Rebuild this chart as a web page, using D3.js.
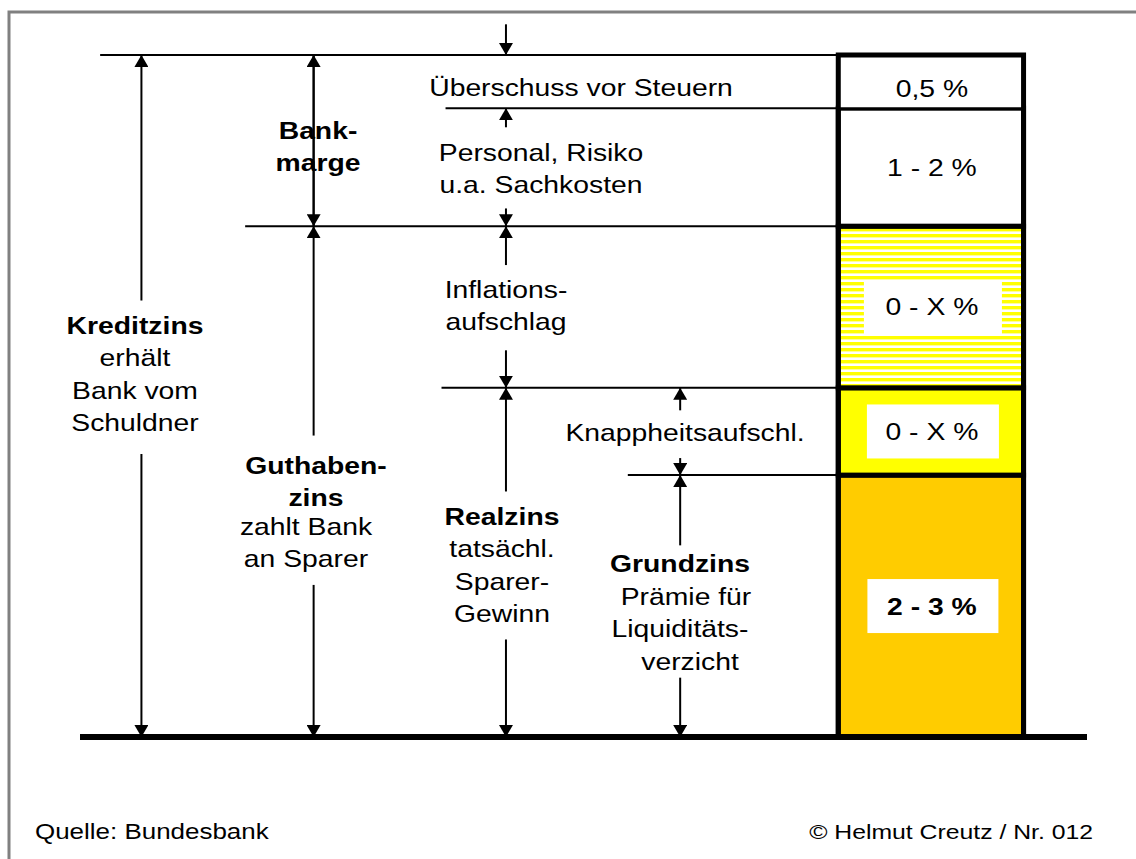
<!DOCTYPE html>
<html>
<head>
<meta charset="utf-8">
<script src="https://cdn.jsdelivr.net/npm/d3@7"></script>
<style>
  html, body { margin: 0; padding: 0; background: #fff; }
  text { font-family: Arial, "Liberation Sans", sans-serif; fill: #000; }
</style>
</head>
<body>
<svg id="chart" width="1136" height="859"></svg>
<script>
// stacked components of the credit rate (schematic heights, bottom to top)
const segments = ["Grundzins", "Knappheit", "Inflation", "Kosten", "Ueberschuss"];
const segHeights = [3.84, 1.28, 2.37, 1.73, 0.78];
const segLabels = ["2 - 3 %", "0 - X %", "0 - X %", "1 - 2 %", "0,5 %"];
const segFills = ["#ffcc00", "#ffff00", "url(#stripes)", "#fff", "#fff"];

// left end of the horizontal guide line at the top of each segment (x units)
const guideStart = [0.544, 0.359, 0.164, 0.363, 0.02];

const footerLeft = "Quelle: Bundesbank";
const footerRight = "\u00A9 Helmut Creutz / Nr. 012";

const svg = d3.select("#chart");
const W = 1136, H = 859;
const STRETCH = 1.18; // the original lettering is drawn wide

const x = d3.scaleLinear().domain([0, 1]).range([80, 1087]);
const y = d3.scaleLinear().domain([0, 10]).range([737, 55]);

// cumulative levels
const tops = d3.cumsum(segHeights);
const bottoms = [0, ...tops.slice(0, -1)];

const defs = svg.append("defs");
const pat = defs.append("pattern")
  .attr("id", "stripes")
  .attr("patternUnits", "userSpaceOnUse")
  .attr("width", 8).attr("height", 6);
pat.append("rect").attr("width", 8).attr("height", 6).attr("fill", "#fff");
pat.append("rect").attr("y", 0).attr("width", 8).attr("height", 3).attr("fill", "#ffff00");
pat.append("rect").attr("y", 3).attr("width", 8).attr("height", 1).attr("fill", "#ffff99");

defs.append("marker")
  .attr("id", "head")
  .attr("viewBox", "0 0 12 14")
  .attr("refX", 12).attr("refY", 7)
  .attr("markerWidth", 12).attr("markerHeight", 14)
  .attr("markerUnits", "userSpaceOnUse")
  .attr("orient", "auto")
  .append("path")
  .attr("d", "M0,0 L12,7 L0,14 Z")
  .attr("fill", "#000");

// frame
svg.append("rect")
  .attr("x", 9).attr("y", 12)
  .attr("width", W + 20).attr("height", H + 20)
  .attr("fill", "none")
  .attr("stroke", "#808080")
  .attr("stroke-width", 3);

const barX0 = x(0.753), barX1 = x(0.937);

// guide lines
svg.selectAll(".guide")
  .data(tops)
  .join("line")
  .attr("x1", (d, i) => x(guideStart[i]))
  .attr("x2", (d, i) => i === 3 ? barX1 : barX0)
  .attr("y1", d => y(d)).attr("y2", d => y(d))
  .attr("stroke", "#000")
  .attr("stroke-width", 2);

// bar segments
svg.append("g").selectAll("rect")
  .data(segments)
  .join("rect")
  .attr("x", barX0)
  .attr("width", barX1 - barX0)
  .attr("y", (d, i) => y(tops[i]))
  .attr("height", (d, i) => y(bottoms[i]) - y(tops[i]))
  .attr("fill", (d, i) => segFills[i])
  .attr("stroke", (d, i) => i === 4 ? "none" : "#000")
  .attr("stroke-width", 5);
// outer outline
svg.append("rect")
  .attr("x", barX0).attr("y", y(tops[4]))
  .attr("width", barX1 - barX0)
  .attr("height", y(0) - y(tops[4]))
  .attr("fill", "none")
  .attr("stroke", "#000")
  .attr("stroke-width", 5);
svg.append("line")
  .attr("x1", barX0).attr("x2", barX1)
  .attr("y1", y(tops[3])).attr("y2", y(tops[3]))
  .attr("stroke", "#000").attr("stroke-width", 2);

// white label boxes in coloured segments
const boxW = [131, 132, 138];
[0, 1, 2].forEach(i => {
  const cy = (y(bottoms[i]) + y(tops[i])) / 2;
  svg.append("rect")
    .attr("x", (barX0 + barX1) / 2 - boxW[i] / 2 + 2)
    .attr("y", cy - 27)
    .attr("width", boxW[i]).attr("height", 54)
    .attr("fill", "#fff");
});

function label(cx, by, str, size, bold, anchor = "middle") {
  return svg.append("text")
    .attr("transform", `translate(${cx},${by}) scale(${STRETCH},1)`)
    .attr("text-anchor", anchor)
    .attr("font-size", size)
    .attr("font-weight", bold ? "bold" : "normal")
    .text(str);
}

const labelShift = [9, 9, 8, 9, 15];
segLabels.forEach((d, i) => {
  const cy = (y(bottoms[i]) + y(tops[i])) / 2;
  label((barX0 + barX1) / 2 + 1, cy + labelShift[i], d, 24, i === 0);
});

// ground line
svg.append("line")
  .attr("x1", x(0)).attr("x2", x(1))
  .attr("y1", y(0)).attr("y2", y(0))
  .attr("stroke", "#000").attr("stroke-width", 6);

// arrow from one level to another, head at the second
function arrow(xu, from, to) {
  svg.append("line")
    .attr("x1", x(xu)).attr("x2", x(xu))
    .attr("y1", y(from)).attr("y2", y(to))
    .attr("stroke", "#000").attr("stroke-width", 2)
    .attr("marker-end", "url(#head)");
}
const L = tops;
// Kreditzins column
arrow(0.061, 6.4, L[4]);
arrow(0.061, 4.15, 0);
// Bankmarge / Guthabenzins column
arrow(0.232, L[2], L[4]);
arrow(0.232, L[4], L[2]);
arrow(0.232, 4.42, L[2]);
arrow(0.232, 2.23, 0);
// middle column
arrow(0.423, 10.45, L[4]);
arrow(0.423, L[3] - 0.28, L[3]);
arrow(0.423, L[2] + 0.26, L[2]);
arrow(0.423, L[2] - 0.57, L[2]);
arrow(0.423, L[1] + 0.55, L[1]);
arrow(0.423, 3.6, L[1]);
arrow(0.423, 1.43, 0);
// right column
arrow(0.596, L[1] - 0.33, L[1]);
arrow(0.596, L[0] + 0.25, L[0]);
arrow(0.596, 2.81, L[0]);
arrow(0.596, 0.87, 0);

// text blocks
function block(cx, topY, lines) {
  lines.forEach((ln, i) => label(cx, topY + i * 32.3, ln[0], 24, ln[1]));
}
block(581, 96, [["Überschuss vor Steuern"]]);
block(541, 161, [["Personal, Risiko"], ["u.a. Sachkosten"]]);
block(318, 139, [["Bank-", 1], ["marge", 1]]);
block(506, 298, [["Inflations-"], ["aufschlag"]]);
block(685, 441, [["Knappheitsaufschl."]]);
block(135, 334, [["Kreditzins", 1], ["erhält"], ["Bank vom"], ["Schuldner"]]);
block(316, 474, [["Guthaben-", 1], ["zins", 1]]);
block(306, 535, [["zahlt Bank"], ["an Sparer"]]);
block(502, 525, [["Realzins", 1], ["tatsächl."], ["Sparer-"], ["Gewinn"]]);
block(680, 572, [["Grundzins", 1]]);
block(686, 605, [["Prämie für"]]);
block(680, 637, [["Liquiditäts-"]]);
block(690, 670, [["verzicht"]]);

// footer
label(35, 839, footerLeft, 22, false, "start");
label(1093, 839, footerRight, 21, false, "end");
</script>
</body>
</html>
